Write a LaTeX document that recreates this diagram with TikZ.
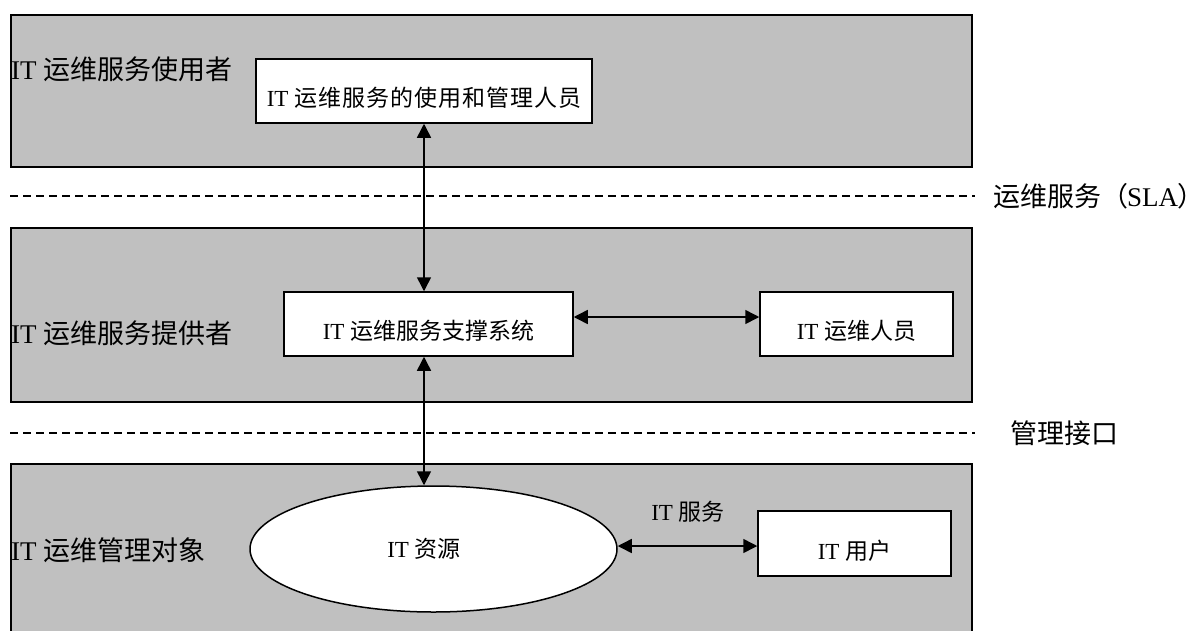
\documentclass[tikz,border=0pt]{standalone}
\usepackage{fontspec}
\setmainfont{Liberation Serif}
\newfontfamily\cjk{Noto Sans CJK SC}
\usetikzlibrary{arrows.meta,shapes.geometric}
\definecolor{bandgray}{HTML}{C0C0C0}
\newcommand\bigf{\fontsize{27pt}{32pt}\selectfont}
\newcommand\smf{\fontsize{23pt}{28pt}\selectfont}
\newcommand\zh[1]{{\cjk #1}}
\tikzset{
  band/.style={draw=black, fill=bandgray, line width=1.5pt, anchor=north west, inner sep=0pt},
  whitebox/.style={draw=black, fill=white, line width=1.5pt, inner sep=0pt, font=\smf,
                   minimum height=64pt, text height=33pt, text depth=2pt},
  biglbl/.style={font=\bigf, inner sep=0pt, anchor=west},
  smlbl/.style={font=\smf, inner sep=0pt},
  conn/.style={line width=1.5pt, {Triangle[length=14pt,width=14pt]}-{Triangle[length=14pt,width=14pt]}},
  sepline/.style={dash pattern=on 8pt off 5pt, line width=1.2pt},
}
\begin{document}
\begin{tikzpicture}[x=1pt,y=-1pt]
\useasboundingbox (0,0) rectangle (1202,630);
% bands
\node[band, minimum width=961pt, minimum height=152pt] (b1) at (10,14) {};
\node[band, minimum width=961pt, minimum height=174pt] (b2) at (10,227) {};
\node[band, minimum width=961pt, minimum height=190pt] (b3) at (10,463) {};
% dashed separators
\draw[sepline] (10,196) -- (975,196);
\draw[sepline] (10,433) -- (975,433);
% right labels
\node[biglbl] (sla) at (993,196) {\zh{运维服务（}\kern-1pt SLA\kern-1pt\zh{）}\kern-3pt};
\node[biglbl] (mgi) at (1010,433) {\zh{管理接口}};
% left labels
\node[biglbl] (l1) at (11,69) {IT \zh{运维服务使用者}};
\node[biglbl] (l2) at (11,333) {IT \zh{运维服务提供者}};
\node[biglbl] (l3) at (11,550) {IT \zh{运维管理对象}};
% boxes
\node[whitebox, minimum width=336pt] (ub) at (424,91)
  {IT \zh{运\kern1pt 维\kern1pt 服\kern1pt 务\kern1pt 的\kern1pt 使\kern1pt 用\kern1pt 和\kern1pt 管\kern1pt 理\kern1pt 人\kern1pt 员}};
\node[whitebox, minimum width=289pt] (sys) at (428.5,324) {IT \zh{运维服务支撑系统}};
\node[whitebox, minimum width=193pt] (staff) at (856.5,324) {IT \zh{运维人员}};
\node[whitebox, minimum width=193pt, minimum height=65pt] (usr) at (854.5,543.5) {IT \zh{用户}};
\node[ellipse, draw=black, fill=white, line width=1.5pt, inner sep=0pt, font=\smf,
      minimum width=367pt, minimum height=126pt] (res) at (433.5,549) {IT \zh{资源}\kern19pt};
\node[smlbl] (svc) at (688,512) {IT \zh{服务}};
% connectors
\draw[conn] (ub.south) -- (ub.south |- sys.north);
\draw[conn] (ub.south |- sys.south) -- (ub.south |- res.north);
\draw[conn] ([yshift=7pt]sys.east) -- ([yshift=7pt]sys.east -| staff.west);
\draw[conn] ([yshift=3pt]res.east) -- ([yshift=3pt]res.east -| usr.west);
\end{tikzpicture}
\end{document}
